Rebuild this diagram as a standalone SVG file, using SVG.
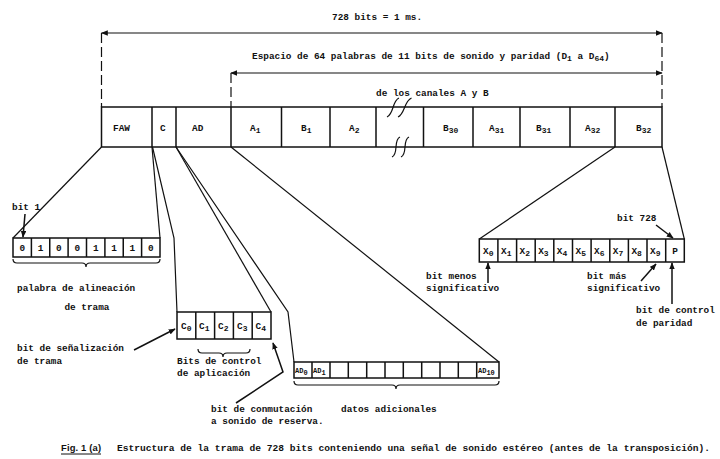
<svg xmlns="http://www.w3.org/2000/svg" width="720" height="459" viewBox="0 0 720 459">
<style>
text{font-family:"Liberation Mono","DejaVu Sans Mono",monospace;font-size:9.4px;font-weight:bold;fill:#111}
.sm{font-size:8px}
.xs{font-size:7px}
.fig{font-family:"Liberation Sans","DejaVu Sans",sans-serif}
.box{fill:none;stroke:#111;stroke-width:1.5}
.ln{fill:none;stroke:#111;stroke-width:1.2}
.dash{fill:none;stroke:#111;stroke-width:1.2;stroke-dasharray:10 4}
.arr{fill:none;stroke:#111;stroke-width:1.5;marker-end:url(#ah)}
</style>
<defs>
<marker id="ah" viewBox="0 0 10 8" refX="9" refY="4" markerWidth="7" markerHeight="6" orient="auto-start-reverse" markerUnits="userSpaceOnUse"><path d="M0,0 L10,4 L0,8 z" fill="#111"/></marker>
</defs>
<rect width="720" height="459" fill="#fff"/>

<g id="dimensions">
<text x="332" y="20">728 bits  = 1 ms.</text>
<line class="ln" x1="101.5" y1="33" x2="662" y2="33" marker-start="url(#ah)" marker-end="url(#ah)"/>
<line class="dash" x1="101.5" y1="33" x2="101.5" y2="107"/>
<line class="dash" x1="662" y1="33" x2="662" y2="107"/>
<text x="252" y="59">Espacio de 64 palabras de 11 bits de sonido y paridad  (D<tspan class="sm" dy="2">1</tspan><tspan dy="-2"> a D</tspan><tspan class="sm" dy="2">64</tspan><tspan dy="-2">)</tspan></text>
<line class="ln" x1="231" y1="73" x2="662" y2="73" marker-start="url(#ah)" marker-end="url(#ah)"/>
<line class="dash" x1="231" y1="73" x2="231" y2="107"/>
<text x="376" y="96">de los canales A y B</text>
</g>

<g id="frame">
<rect class="box" x="101.5" y="107" width="560.5" height="40"/>
<path class="box" d="M152,107V147M176,107V147M231,107V147M281.5,107V147M330,107V147M376,107V147M423.5,107V147M473,107V147M520,107V147M570,107V147M615,107V147"/>
<path class="ln" d="M387,117 C394,114 392,101 399,98 M398,117 C405,114 404,101 411.5,98 M392,157 C399,154 393,140 400,137 M401,157 C408,154 402,140 409,137"/>
<text x="113" y="131">FAW</text>
<text x="160" y="131">C</text>
<text x="192" y="131">AD</text>
<text x="250" y="131">A<tspan class="sm" dy="2">1</tspan></text>
<text x="301" y="131">B<tspan class="sm" dy="2">1</tspan></text>
<text x="349" y="131">A<tspan class="sm" dy="2">2</tspan></text>
<text x="443" y="131">B<tspan class="sm" dy="2">30</tspan></text>
<text x="489" y="131">A<tspan class="sm" dy="2">31</tspan></text>
<text x="536" y="131">B<tspan class="sm" dy="2">31</tspan></text>
<text x="585" y="131">A<tspan class="sm" dy="2">32</tspan></text>
<text x="636" y="131">B<tspan class="sm" dy="2">32</tspan></text>
</g>

<g id="connectors">
<path class="ln" d="M101.5,147 L13,238"/>
<path class="ln" d="M152,147 L160,238"/>
<path class="ln" d="M152.5,147 L174,238 L177,312"/>
<path class="ln" d="M176,147 L271,312"/>
<path class="ln" d="M176,147 L288,312 L294,362"/>
<path class="ln" d="M231,147 L499,362"/>
<path class="ln" d="M615,147 L479.3,239"/>
<path class="ln" d="M662,147 L684.3,239"/>
</g>

<g id="faw-word">
<rect class="box" x="13" y="238" width="147" height="19"/>
<path class="box" d="M31.4,238V257M49.75,238V257M68.1,238V257M86.5,238V257M104.9,238V257M123.25,238V257M141.6,238V257"/>
<text x="22.2" y="251" text-anchor="middle">0</text>
<text x="40.6" y="251" text-anchor="middle">1</text>
<text x="58.9" y="251" text-anchor="middle">0</text>
<text x="77.3" y="251" text-anchor="middle">0</text>
<text x="95.7" y="251" text-anchor="middle">1</text>
<text x="114.1" y="251" text-anchor="middle">1</text>
<text x="132.4" y="251" text-anchor="middle">1</text>
<text x="150.8" y="251" text-anchor="middle">0</text>
<path class="ln" d="M13,259 q0,4 4,4 L82,263 q4,0 4,4 q0,-4 4,-4 L156,263 q4,0 4,-4"/>
<text x="12" y="210">bit 1</text>
<path class="arr" d="M25,214 L23,237"/>
<text x="17" y="291">palabra  de  alineación</text>
<text x="87" y="310" text-anchor="middle">de trama</text>
</g>

<g id="c-bits">
<rect class="box" x="177" y="312" width="94" height="27"/>
<path class="box" d="M195.8,312V339M214.6,312V339M233.4,312V339M252.2,312V339"/>
<text x="181" y="329">C<tspan class="sm" dy="2">0</tspan></text>
<text x="199" y="329">C<tspan class="sm" dy="2">1</tspan></text>
<text x="218" y="329">C<tspan class="sm" dy="2">2</tspan></text>
<text x="237" y="329">C<tspan class="sm" dy="2">3</tspan></text>
<text x="255.5" y="329">C<tspan class="sm" dy="2">4</tspan></text>
<path class="ln" d="M198,349 q0,4 4,4 L219,353 q4,0 4,4 q0,-4 4,-4 L246,353 q4,0 4,-4"/>
<text x="177" y="364">Bits  de  control</text>
<text x="177" y="376">de aplicación</text>
<text x="17" y="351">bit de señalización</text>
<text x="17" y="364">de trama</text>
<path class="arr" d="M134,350 L175,329"/>
<text x="211" y="412">bit de conmutación</text>
<text x="211" y="424">a sonido de reserva.</text>
<path class="arr" d="M236,403 L283,372 L273,343"/>
</g>

<g id="ad-bits">
<rect class="box" x="294" y="362" width="205" height="16"/>
<path class="box" d="M312,362V378M330,362V378M348.3,362V378M366.7,362V378M385,362V378M403.3,362V378M421.7,362V378M440,362V378M458.3,362V378M476.7,362V378"/>
<text class="xs" x="295" y="373">AD<tspan dy="2">0</tspan></text>
<text class="xs" x="313" y="373">AD<tspan dy="2">1</tspan></text>
<text class="xs" x="478" y="373">AD<tspan dy="2">10</tspan></text>
<path class="ln" d="M294,381 q0,4 4,4 L392,385 q4,0 4,4 q0,-4 4,-4 L495,385 q4,0 4,-4"/>
<text x="341" y="412">datos adicionales</text>
</g>

<g id="x-bits">
<rect class="box" x="479.3" y="239" width="205" height="23"/>
<path class="box" d="M497.9,239V262M516.6,239V262M535.2,239V262M553.8,239V262M572.5,239V262M591.1,239V262M609.8,239V262M628.4,239V262M647,239V262M665.7,239V262"/>
<text x="483" y="254">X<tspan class="sm" dy="2">0</tspan></text>
<text x="501" y="254">X<tspan class="sm" dy="2">1</tspan></text>
<text x="519.6" y="254">X<tspan class="sm" dy="2">2</tspan></text>
<text x="538.2" y="254">X<tspan class="sm" dy="2">3</tspan></text>
<text x="556.8" y="254">X<tspan class="sm" dy="2">4</tspan></text>
<text x="575.5" y="254">X<tspan class="sm" dy="2">5</tspan></text>
<text x="594.1" y="254">X<tspan class="sm" dy="2">6</tspan></text>
<text x="612.8" y="254">X<tspan class="sm" dy="2">7</tspan></text>
<text x="631.4" y="254">X<tspan class="sm" dy="2">8</tspan></text>
<text x="650" y="254">X<tspan class="sm" dy="2">9</tspan></text>
<text x="675" y="254" text-anchor="middle">P</text>
<text x="617" y="221">bit 728</text>
<path class="arr" d="M656,225 L673,238"/>
<text x="426" y="279">bit menos</text>
<text x="426" y="291">significativo</text>
<path class="arr" d="M488,283 L488,263"/>
<text x="587" y="279">bit más</text>
<text x="587" y="291">significativo</text>
<path class="arr" d="M641,281 L656,264"/>
<text x="636" y="313">bit de control</text>
<text x="636" y="326">de paridad</text>
<path class="arr" d="M672,304 L672,263"/>
</g>

<g id="caption">
<text class="fig" x="61" y="451" textLength="40" lengthAdjust="spacing">Fig. 1 (a)</text>
<line x1="61" y1="454" x2="101" y2="454" stroke="#111" stroke-width="1"/>
<text x="117" y="451" textLength="593" lengthAdjust="spacingAndGlyphs">Estructura de la trama de 728 bits conteniendo una señal de sonido estéreo (antes de la transposición).</text>
</g>
</svg>
